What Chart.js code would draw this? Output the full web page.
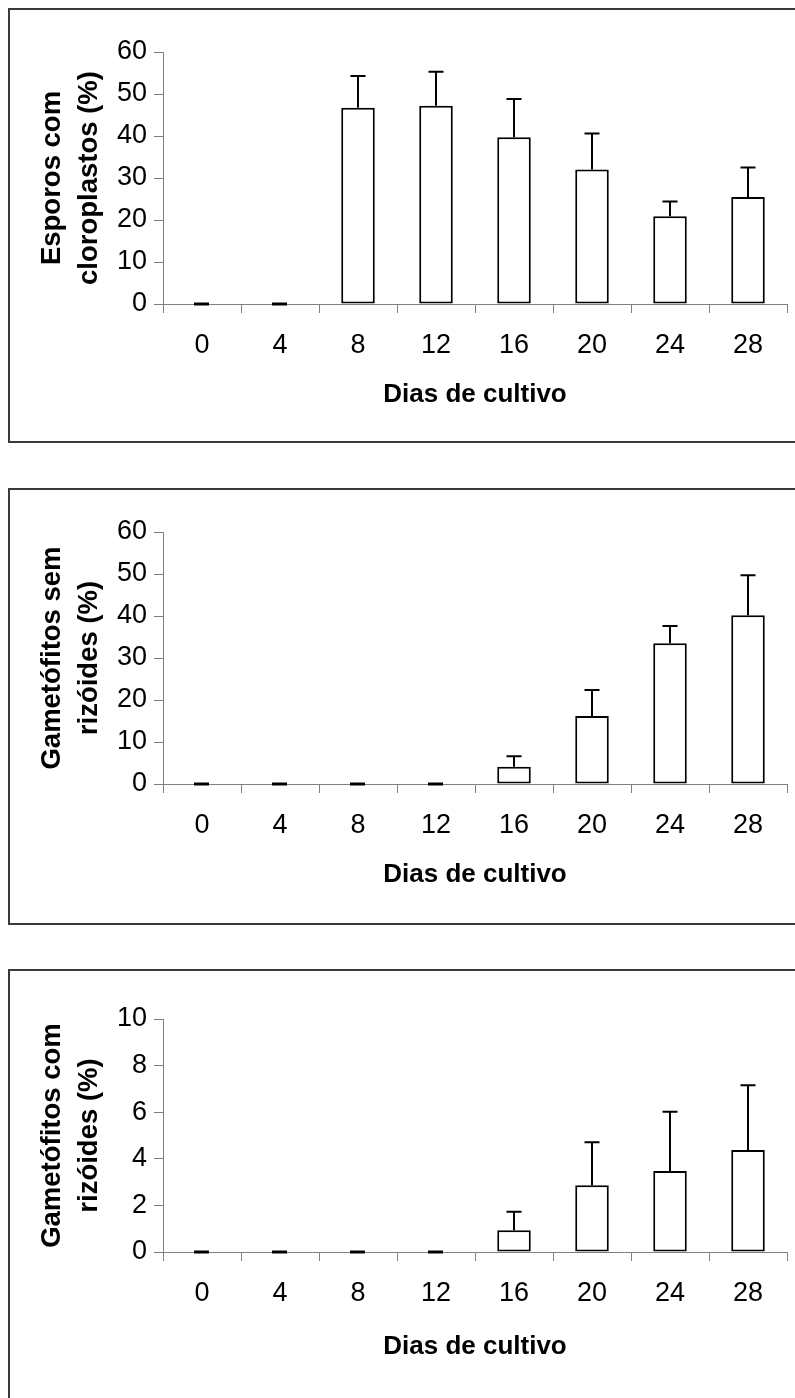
<!doctype html>
<html lang="pt">
<head>
<meta charset="utf-8">
<title>Dias de cultivo</title>
<style>
  * { margin: 0; padding: 0; }
  html, body { width: 795px; height: 1398px; overflow: hidden; background: #fff; }
  .frame { position: absolute; left: 8px; width: 900px; border: 2px solid #3a3a3a; box-sizing: border-box; }
  canvas { position: absolute; left: 0; }
</style>
</head>
<body>
<div class="frame" style="top:8px;height:435px"></div>
<div class="frame" style="top:488px;height:437px"></div>
<div class="frame" style="top:969px;height:520px"></div>

<canvas id="c1" width="795" height="440" style="top:0px"></canvas>
<canvas id="c2" width="795" height="440" style="top:480px"></canvas>
<canvas id="c3" width="795" height="431" style="top:967px"></canvas>

<script src="https://cdn.jsdelivr.net/npm/chart.js"></script>
<script>
const days = ['0', '4', '8', '12', '16', '20', '24', '28'];

// esporos com cloroplastos (%), media e desvio
const esporosMean = [0, 0, 46.7, 47.2, 39.7, 32.0, 20.9, 25.5];
const esporosSd = [0, 0, 7.6, 8.1, 9.1, 8.6, 3.5, 7.0];

// gametofitos sem rizoides (%)
const semRizMean = [0, 0, 0, 0, 4.1, 16.2, 33.5, 40.2];
const semRizSd = [0, 0, 0, 0, 2.5, 6.2, 4.1, 9.5];

// gametofitos com rizoides (%)
const comRizMean = [0, 0, 0, 0, 0.93, 2.87, 3.48, 4.38];
const comRizSd = [0, 0, 0, 0, 0.8, 1.84, 2.54, 2.78];

Chart.defaults.font.family = "'Liberation Sans', Arial, sans-serif";
Chart.defaults.color = '#000';

// error bars (upper only) and the flat mark for zero values
const errorBars = {
  id: 'errorBars',
  afterDatasetsDraw(chart, args, opts) {
    const ctx = chart.ctx;
    const y = chart.scales.y;
    const meta = chart.getDatasetMeta(0);
    const data = chart.data.datasets[0].data;
    const sd = opts.sd;
    ctx.save();
    ctx.strokeStyle = '#000';
    ctx.lineCap = 'butt';
    meta.data.forEach((bar, i) => {
      const v = data[i];
      if (v === 0) {
        ctx.lineWidth = 3;
        ctx.beginPath();
        ctx.moveTo(bar.x - 8, y.getPixelForValue(0));
        ctx.lineTo(bar.x + 7, y.getPixelForValue(0));
        ctx.stroke();
        return;
      }
      const top = y.getPixelForValue(v + sd[i]);
      ctx.lineWidth = 2;
      ctx.beginPath();
      ctx.moveTo(bar.x, bar.y);
      ctx.lineTo(bar.x, top);
      ctx.moveTo(bar.x - 7.5, top);
      ctx.lineTo(bar.x + 7.5, top);
      ctx.stroke();
    });
    ctx.restore();
  }
};

function makeChart(id, mean, sd, yTitle, yMax, yStep, xAxisH, xTitlePad) {
  return new Chart(document.getElementById(id), {
    type: 'bar',
    data: {
      labels: days,
      datasets: [{
        data: mean,
        backgroundColor: '#fff',
        borderColor: '#000',
        borderWidth: 2,
        borderSkipped: false,
        categoryPercentage: 1,
        barPercentage: 0.43
      }]
    },
    options: {
      responsive: false,
      animation: false,
      layout: { padding: { top: 52, right: 8, bottom: 0, left: 0 } },
      plugins: {
        legend: { display: false },
        tooltip: { enabled: false },
        errorBars: { sd: sd }
      },
      scales: {
        x: {
          grid: { drawOnChartArea: false, drawTicks: true, tickLength: 9, color: '#808080', offset: true },
          border: { color: '#808080', width: 1 },
          ticks: { font: { size: 27 }, padding: 16, maxRotation: 0 },
          title: {
            display: true,
            text: 'Dias de cultivo',
            font: { size: 26, weight: 'bold' },
            padding: { top: 0, bottom: xTitlePad }
          },
          afterFit: s => { s.height = xAxisH; }
        },
        y: {
          min: 0,
          max: yMax,
          grid: { drawOnChartArea: false, drawTicks: true, tickLength: 9, color: '#808080' },
          border: { color: '#808080', width: 1 },
          ticks: { stepSize: yStep, font: { size: 27 }, padding: 7 },
          title: {
            display: true,
            text: yTitle,
            font: { size: 27.5, weight: 'bold', lineHeight: 1.34 },
            padding: { top: 34, bottom: 0 }
          },
          afterFit: s => { s.width = 163; }
        }
      }
    },
    plugins: [errorBars]
  });
}

makeChart('c1', esporosMean, esporosSd, ['Esporos com', 'cloroplastos (%)'], 60, 10, 136, 30);
makeChart('c2', semRizMean, semRizSd, ['Gametófitos sem', 'rizóides (%)'], 60, 10, 136, 30);
makeChart('c3', comRizMean, comRizSd, ['Gametófitos com', 'rizóides (%)'], 10, 2, 146, 36);
</script>
</body>
</html>
